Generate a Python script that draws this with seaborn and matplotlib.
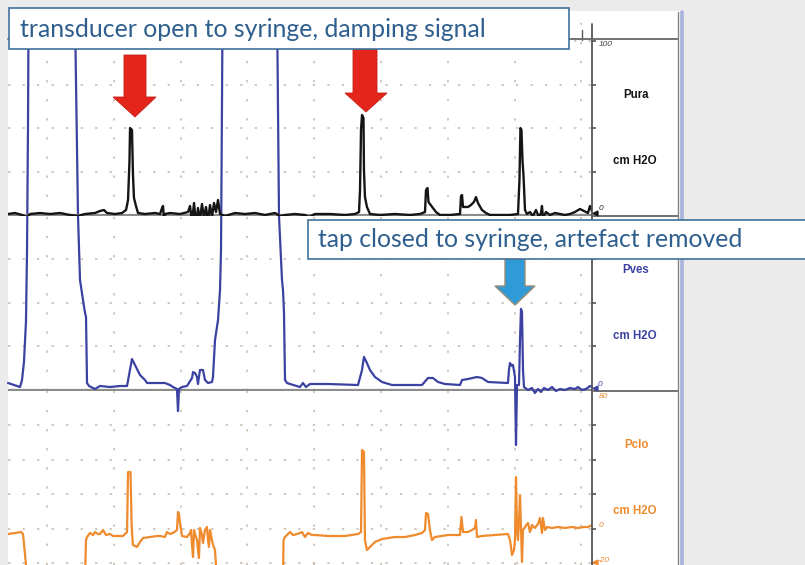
import matplotlib
matplotlib.use("Agg")
import matplotlib.pyplot as plt
from matplotlib.patches import Rectangle, Polygon
import seaborn as sns

# ---------------- data (time in s, pressure in cm H2O) ----------------
pura_t = [4.16, 5.21, 6.26, 7.01, 7.46, 8.95, 10.45, 11.95, 13.44, 14.64, 15.69, 17.19, 17.93, 18.53,
          18.98, 20.18, 21.23, 21.83, 22.13, 22.35, 22.43, 22.72, 22.87, 23.02, 23.32, 23.62, 24.67,
          26.17, 26.92, 27.22, 27.37, 27.51, 27.66, 28.41, 29.91, 31.11, 31.41, 31.71, 32.01, 32.31,
          32.60, 32.90, 33.20, 33.50, 33.80, 34.10, 34.40, 34.70, 35.00, 35.30, 35.60, 35.90, 36.65,
          38.14, 39.64, 41.14, 42.63, 44.13, 44.88, 45.63, 47.13, 48.62, 49.22, 50.12, 52.36, 54.61,
          56.11, 56.71, 56.86, 57.01, 57.16, 57.38, 57.45, 57.60, 57.90, 58.35, 59.85, 62.09, 64.34,
          65.84, 66.59, 66.74, 66.96, 67.11, 67.33, 67.78, 68.23, 68.83, 70.33, 71.83, 71.98, 72.13,
          72.28, 73.02, 73.47, 73.92, 74.22, 74.52, 75.12, 75.72, 76.32, 77.81, 79.31, 80.51, 80.73,
          80.88, 81.03, 81.18, 81.33, 81.56, 81.85, 82.30, 82.75, 83.20, 83.65, 83.95, 84.10, 84.25,
          84.70, 85.30, 86.05, 86.80, 87.54, 88.29, 89.04, 89.79, 90.39, 90.99, 91.29, 91.59]
pura_v = [0.57, 1.15, 0.0, -1.15, 0.57, 1.15, 0.57, 1.15, 0.0, -0.57, 0.57, 1.15, 2.3, 2.87,
          1.15, 0.57, 1.15, 2.87, 8.62, 31.6, 50.0, 48.9, 23.0, 9.77, 5.17, 1.15, 0.57,
          1.15, 0.57, 4.02, 5.17, -2.87, 0.57, 1.15, 0.57, 1.72, 5.17, -4.02, 6.9, -5.75,
          4.02, -2.87, 6.32, -1.72, 4.6, -3.45, 5.75, -1.15, 6.9, 1.72, 8.62, 0.57, -0.57,
          1.15, 0.57, 1.15, 0.0, 1.15, -0.57, 0.0, 0.57, 0.0, -1.15, 0.57, 0.57, 0.0,
          0.57, 1.72, 14.4, 48.9, 57.5, 55.7, 25.9, 10.3, 4.6, 0.57, 0.0, 0.57, 0.0,
          0.57, 1.72, 14.4, 15.5, 7.5, 6.3, 4.0, 1.72, 0.0, 0.0, 0.57, 10.9, 11.5,
          4.6, 4.6, 5.75, 7.5, 10.3, 6.9, 2.87, 1.15, 0.0, 0.0, 0.0, 0.57, 20.1,
          50.0, 48.9, 31.6, 23.0, 2.87, 0.57, 1.72, -0.57, 2.87, -1.15, 1.15, 5.17, -1.72,
          1.72, 0.0, 1.15, 0.57, 0.0, 0.57, 1.72, 3.45, 2.3, 1.15, 5.17, 2.3]

pves_t = [4.16, 5.06, 5.96, 6.26, 6.55, 6.85, 7.01, 7.16, 7.23, 14.19, 14.27, 14.64, 14.94, 15.39,
          15.69, 15.84, 15.99, 16.29, 17.19, 17.93, 19.43, 20.93, 21.98, 22.28, 22.72, 23.17, 23.92,
          24.67, 24.97, 26.17, 27.66, 28.41, 28.86, 29.46, 29.61, 29.76, 30.21, 30.96, 31.71, 31.86,
          32.16, 32.46, 32.60, 32.90, 33.35, 33.65, 34.10, 34.70, 34.85, 35.15, 35.60, 35.90, 36.05,
          36.20, 36.27, 44.43, 44.50, 44.73, 45.18, 45.33, 45.48, 45.63, 45.93, 46.38, 47.87, 48.32,
          48.77, 49.37, 52.07, 56.56, 57.16, 57.45, 57.90, 58.35, 59.10, 60.15, 61.65, 66.14, 67.04,
          67.78, 68.53, 69.58, 71.83, 72.13, 73.02, 74.37, 75.12, 76.02, 79.01, 79.16, 79.31, 79.61,
          79.76, 80.06, 80.21, 80.36, 80.66, 80.81, 80.96, 81.11, 81.26, 81.41, 82.00, 82.60, 83.05,
          83.50, 83.95, 84.40, 85.00, 85.60, 86.20, 86.80, 87.54, 88.29, 89.04, 89.49, 90.09, 90.69,
          91.29, 91.59]
pves_v = [4.02, 2.87, 1.72, 5.75, 16.1, 39.1, 80.5, 155.2, 212.6, 212.6, 195.4, 100.0, 63.2, 51.7,
          44.3, 42.0, 4.02, 2.3, 0.57, 2.3, 1.72, 2.3, 2.3, 8.62, 17.8, 14.4, 8.62,
          5.75, 4.02, 4.02, 4.02, 2.87, 1.72, 0.57, -12.1, 0.57, 1.72, 2.3, 6.9, 10.3,
          9.77, 7.47, 3.45, 11.5, 11.5, 5.75, 4.02, 4.6, 7.47, 28.7, 40.2, 57.5, 80.5,
          166.7, 212.6, 212.6, 195.4, 100.0, 63.2, 57.5, 44.3, 5.75, 4.02, 3.45, 1.72, 4.02,
          1.72, 3.45, 3.45, 2.87, 11.5, 19.0, 15.5, 11.5, 7.47, 4.6, 2.87, 2.87, 6.9,
          6.9, 4.6, 3.45, 2.87, 5.75, 6.32, 7.47, 6.9, 4.6, 4.02, 11.5, 15.5, 13.8,
          14.4, 7.47, -31.6, 2.87, 2.87, 28.7, 46.6, 44.8, 11.5, 1.72, 0.0, 1.15, -1.72,
          0.57, -1.15, 1.15, 0.0, 1.72, -0.57, 0.57, 0.0, 1.15, 0.57, 1.72, 0.0, 0.57,
          2.3, 1.72]

pclo_t = [4.16, 5.21, 6.11, 6.41, 6.86, 7.01, 15.69, 15.84, 15.99, 16.44, 16.89, 17.19, 17.63, 17.93,
          18.38, 18.83, 19.43, 19.88, 20.63, 21.38, 21.98, 22.13, 22.50, 22.65, 22.72, 22.87, 23.17,
          23.47, 23.92, 24.37, 25.42, 26.47, 26.92, 27.66, 27.96, 28.41, 28.86, 29.46, 29.61, 29.76,
          29.91, 30.21, 30.96, 31.41, 31.56, 31.71, 31.86, 32.01, 32.16, 32.46, 32.60, 32.75, 32.90,
          33.20, 33.35, 33.65, 33.95, 34.10, 34.25, 34.40, 34.55, 34.85, 35.15, 35.30, 35.37, 45.33,
          45.41, 45.63, 46.08, 46.38, 46.83, 47.42, 47.87, 48.17, 48.62, 49.07, 49.67, 50.12, 52.07,
          54.61, 56.56, 57.01, 57.16, 57.45, 57.60, 57.90, 58.35, 59.10, 60.15, 62.09, 63.59, 65.09,
          66.14, 66.59, 66.74, 67.04, 67.33, 67.63, 68.08, 70.03, 71.83, 72.05, 72.28, 73.02, 73.62,
          74.07, 74.22, 74.37, 75.12, 77.06, 79.01, 79.31, 79.46, 79.61, 79.91, 80.06, 80.21, 80.36,
          80.51, 80.66, 80.81, 80.96, 81.11, 81.26, 81.56, 82.00, 82.30, 82.60, 83.05, 83.50, 83.80,
          84.10, 84.25, 84.55, 84.85, 85.60, 86.50, 87.54, 88.59, 89.49, 90.39, 90.99, 91.59]
pclo_v = [-2.9, -2.32, -1.74, -2.9, -20.9, -28.0, -28.0, -6.38, -4.64, -2.32, -3.48, -1.74, -2.9, -2.9,
          -0.58, -3.48, -2.9, -4.06, -4.06, -4.06, -1.74, 33.0, 33.0, 5.2, -1.74, -9.28, -9.86,
          -10.4, -7.54, -5.22, -4.64, -4.06, -4.06, -4.64, -1.74, -2.9, -2.32, -0.58, 9.86, 8.7,
          3.48, -4.06, -4.64, -2.32, -0.58, -9.28, -16.2, -0.58, -2.9, -6.38, -12.2, -16.8, 0.58,
          -3.48, -8.12, -0.58, 1.16, -6.38, -10.4, -0.58, -3.48, -9.28, -12.2, -20.9, -28.0, -28.0,
          -6.38, -4.64, -2.9, -1.74, -3.48, -2.9, -2.32, -1.74, -4.64, -2.32, -3.48, -3.48, -4.06,
          -4.06, -2.9, -1.74, 45.8, 44.6, -6.38, -12.2, -10.4, -7.54, -5.8, -4.64, -4.64, -3.48,
          -2.32, -0.58, 9.28, 8.7, -0.58, -6.38, -4.64, -3.48, -3.48, 6.96, -1.74, -1.74, -0.58,
          0.58, 5.22, -4.64, -4.06, -3.48, -2.9, -6.38, -10.4, -15.1, -12.2, -6.38, 30.1, -0.58,
          -6.38, 5.22, 19.7, -0.58, -19.1, -0.58, 1.16, 3.48, -1.74, 2.32, 0.58, 2.9, 6.38,
          -2.32, 6.38, -0.58, 1.16, 0.58, 1.16, 0.58, 1.16, 0.58, 1.16, 1.16, 2.32]

channel_names = ["Pura", "Pves", "Pclo"]
unit_label = "cm H2O"
pura_scale_labels = ["100", "0"]
pves_scale_labels = ["0"]
pclo_scale_labels = ["80", "0", "-20"]
note_top = "transducer open to syringe, damping signal"
note_mid = "tap closed to syringe, artefact removed"

# ---------------- styling ----------------
C_PURA = "#151515"
C_PVES = "#3b42a2"
C_PCLO = "#ef8a2d"
C_GRID = "#c4b8ad"
C_AXIS = "#555555"
C_NOTE = "#2f5f8e"
C_BOX = "#41719c"

sns.set_style("white")
W, H = 805, 565
fig = plt.figure(figsize=(W / 100, H / 100), dpi=100, facecolor="#ebebeb")


def frac(x0, y0, x1, y1):
    return [x0 / W, 1 - y1 / H, (x1 - x0) / W, (y1 - y0) / H]


bg = fig.add_axes([0, 0, 1, 1], zorder=0)
bg.set_xlim(0, W); bg.set_ylim(H, 0); bg.axis("off")
bg.add_patch(Rectangle((8, 11), 672, 560, facecolor="white", edgecolor="none"))

XL = (4.16, 91.59)
ax_pura = fig.add_axes(frac(8, 12, 592, 216), zorder=3)
ax_pves = fig.add_axes(frac(8, 216, 592, 391), zorder=2)
ax_pclo = fig.add_axes(frac(8, 391, 592, 565), zorder=1)

panels = [
    (ax_pura, (-0.575, 116.7), [25, 50, 75, 100], True),
    (ax_pves, (-0.575, 100.0), [25, 50, 75], True),
    (ax_pclo, (-20.87, 80.0), [-20, 0, 20, 40, 60], False),
]
for ax, yl, yt, zero_line in panels:
    ax.set_facecolor("none")
    ax.set_xlim(*XL)
    ax.set_ylim(*yl)
    ax.set_xticks(range(10, 100, 10))
    ax.set_yticks(yt)
    for s in ax.spines.values():
        s.set_visible(False)
    ax.grid(True, axis="x", color=C_GRID, linestyle=(0, (1.5, 11.0)), linewidth=1.1)
    ax.grid(True, axis="y", color=C_GRID, linestyle=(0, (1.5, 8.0)), linewidth=1.1)
    ax.tick_params(axis="x", bottom=False, labelbottom=False)
    ax.tick_params(axis="y", left=False, labelleft=False, right=True, labelright=False,
                   length=3, width=1.2, color=C_AXIS, direction="out")
    ax.set_xlabel(""); ax.set_ylabel("")
    if zero_line:
        ax.axhline(0, color="#8c8c8c", lw=1.6, zorder=1)

sns.lineplot(x=pves_t, y=pves_v, ax=ax_pves, color=C_PVES, linewidth=1.6,
             estimator=None, sort=False, clip_on=False, zorder=3)
sns.lineplot(x=pura_t, y=pura_v, ax=ax_pura, color=C_PURA, linewidth=1.7,
             estimator=None, sort=False, zorder=3)
sns.lineplot(x=pclo_t, y=pclo_v, ax=ax_pclo, color=C_PCLO, linewidth=1.6,
             estimator=None, sort=False, zorder=3)
for ax in (ax_pura, ax_pves, ax_pclo):
    ax.set_xlabel(""); ax.set_ylabel("")

# ---------------- overlay: frame, labels, notes ----------------
ov = fig.add_axes([0, 0, 1, 1], zorder=10)
ov.set_xlim(0, W); ov.set_ylim(H, 0); ov.axis("off"); ov.set_facecolor("none")

ov.plot([592, 592], [24, 565], color=C_AXIS, lw=1.3)
ov.plot([582, 582], [30, 40], color=C_AXIS, lw=1.0)
ov.plot([8, 678], [38.5, 38.5], color="#666666", lw=1.3)
ov.plot([592, 678], [215.5, 215.5], color="#666666", lw=1.3)
ov.plot([592, 678], [391, 391], color="#666666", lw=1.3)
ov.plot([678, 678], [12, 565], color="#808080", lw=1.0)
ov.plot([681.5, 681.5], [12, 565], color="#a9b4dc", lw=2.6)

lab = dict(ha="center", va="center", fontsize=8.3, fontweight="bold", family="Liberation Sans")
ov.text(636, 94.5, channel_names[0], color=C_PURA, **lab)
ov.text(635, 161, unit_label, color=C_PURA, **lab)
ov.text(636, 270, channel_names[1], color=C_PVES, **lab)
ov.text(635, 336, unit_label, color=C_PVES, **lab)
ov.text(636, 445.5, channel_names[2], color=C_PCLO, **lab)
ov.text(635, 510.5, unit_label, color=C_PCLO, **lab)

sc = dict(ha="left", va="center", fontsize=6, style="italic", family="Liberation Sans")
ov.text(599, 44.5, pura_scale_labels[0], color="#444444", **sc)
ov.text(599, 209, pura_scale_labels[1], color="#222222", **sc)
ov.text(598, 384, pves_scale_labels[0], color=C_PVES, **sc)
ov.text(599, 396, pclo_scale_labels[0], color=C_PCLO, **sc)
ov.text(599, 525.5, pclo_scale_labels[1], color=C_PCLO, **sc)
ov.text(598, 560, pclo_scale_labels[2], color=C_PCLO, **sc)
ov.plot([595], [213], marker="<", ms=3.5, color=C_PURA)
ov.plot([595], [388], marker="<", ms=3.5, color=C_PVES)
ov.plot([595], [562], marker="<", ms=3.5, color=C_PCLO)

# arrows
red = "#e3251c"
ov.add_patch(Polygon([(124, 55), (146, 55), (146, 97), (156, 97), (135, 117), (113, 97), (124, 97)],
                     closed=True, facecolor=red, edgecolor="#c81e16", lw=0.6, zorder=4))
ov.add_patch(Polygon([(353, 49), (377, 49), (377, 93), (387, 93), (366, 112), (345, 93), (353, 93)],
                     closed=True, facecolor=red, edgecolor="#c81e16", lw=0.6, zorder=4))
ov.add_patch(Polygon([(505, 259), (525, 259), (525, 286), (535, 286), (515, 305), (495, 286), (505, 286)],
                     closed=True, facecolor="#2f9ad8", edgecolor="#9a8d74", lw=1.0, zorder=4))

# note boxes
ov.add_patch(Rectangle((9, 8), 560, 41, facecolor="white", edgecolor=C_BOX, lw=1.2, zorder=5))
ov.text(20, 37, note_top, ha="left", va="baseline", fontsize=17.9, family="Lato",
        color=C_NOTE, zorder=6)
ov.add_patch(Rectangle((308, 220), 510, 39, facecolor="white", edgecolor=C_BOX, lw=1.2,
                       zorder=5, clip_on=False))
ov.text(318, 247, note_mid, ha="left", va="baseline", fontsize=17.8, family="Lato",
        color=C_NOTE, zorder=6)

fig.savefig("out.png", dpi=100, facecolor=fig.get_facecolor())
